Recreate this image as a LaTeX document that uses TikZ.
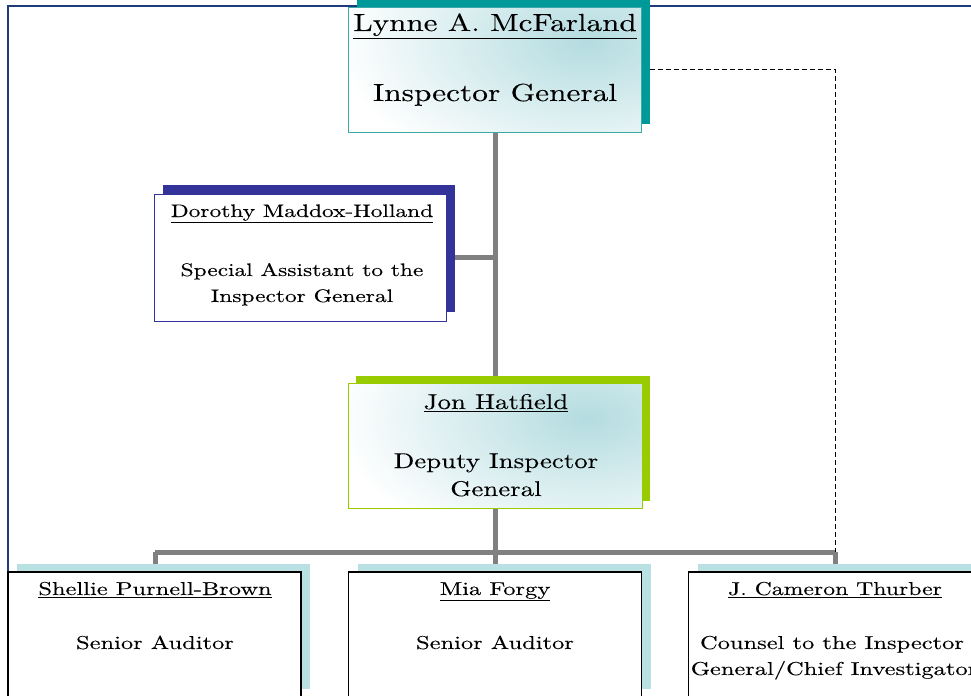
\documentclass[tikz,border=0pt]{standalone}
\usepackage{fontspec}
\setmainfont{lmroman10-regular.otf}[BoldFont=lmroman10-regular.otf, BoldFeatures={FakeBold=0.15}]
\usepackage{graphicx}
\usetikzlibrary{backgrounds}
\definecolor{framecol}{HTML}{1F3B7A}
\definecolor{tealS}{HTML}{009999}
\definecolor{tealB}{HTML}{3CA9A9}
\definecolor{gradC}{HTML}{B4DCE0}
\definecolor{navyS}{HTML}{333399}
\definecolor{limeS}{HTML}{99CC00}
\definecolor{lightS}{HTML}{B9E0E3}
\definecolor{connG}{HTML}{808080}
\newcommand{\stx}[2][1.31]{\scalebox{#1}[1]{#2}}
\newcommand{\ul}[1]{\leavevmode\vtop{\hbox{#1}\kern0.07em\hrule height 0.065em}}
\begin{document}
\begin{tikzpicture}[x=0.75pt,y=-0.75pt,
  mainbox/.style={rectangle, inner sep=0pt, outer sep=0pt, line width=0.75pt, fill=white},
  gradbox/.style={mainbox, path picture={
      \shade[inner color=gradC, outer color=white]
        ([shift={(-55,35)}]path picture bounding box.north east) ellipse (250 and 140);}},
  plainbox/.style={mainbox},
  lowbox/.style={mainbox, draw=black, line width=1.2pt,
    minimum width=219.75pt, minimum height=93.75pt},
  txt/.style={inner sep=0pt, anchor=base, text=black},
  bigtxt/.style={txt, font=\fontsize{18.5}{22}\selectfont\bfseries},
  midtxt/.style={txt, font=\fontsize{16}{19}\selectfont\bfseries},
  dortxt/.style={txt, font=\fontsize{13.6}{16}\selectfont\bfseries},
  lowtxt/.style={txt, font=\fontsize{14}{16}\selectfont\bfseries},
  conn/.style={draw=connG, line width=3.75pt},
  dashconn/.style={draw=black, line width=0.75pt, dash pattern=on 3.75pt off 2.25pt}]
\path[use as bounding box, clip] (0,0) rectangle (971,696);

% boxes
\node[gradbox, draw=tealB, minimum width=219.75pt, minimum height=93.75pt] (lynne) at (495,69.5) {};
\node[plainbox, draw=navyS, minimum width=219pt, minimum height=95.25pt] (dorothy) at (300,257.5) {};
\node[gradbox, draw=limeS, minimum width=220.5pt, minimum height=93.75pt] (jon) at (495,445.5) {};
\node[lowbox] (shellie) at (154.5,634.5) {};
\node[lowbox] (mia) at (495,634.5) {};
\node[lowbox] (thurber) at (835,634.5) {};

\coordinate (busL) at (155,552);
\coordinate (busR) at (835,552);

\begin{pgfonlayer}{background}
  \draw[framecol, line width=1.5pt] (8,572) -- (8,6) -- (990,6);
  \draw[conn] (lynne.south) -- (jon.north);
  \draw[conn] (dorothy.east) -- (dorothy.east -| lynne.south);
  \draw[conn] (jon.south) -- (jon.south |- busL);
  \draw[conn] (busL) -- (busR);
  \draw[conn] (busL) -- (shellie.north -| busL);
  \draw[conn] (jon.south |- busL) -- (mia.north);
  \draw[conn] (busR) -- (thurber.north);
  \draw[dashconn] (lynne.east) -- (lynne.east -| thurber.north) -- (thurber.north |- busL);
  \fill[tealS] ([shift={(8,-8)}]lynne.south west) rectangle ([shift={(8,-8)}]lynne.north east);
  \fill[navyS] ([shift={(9,-9)}]dorothy.south west) rectangle ([shift={(9,-9)}]dorothy.north east);
  \fill[limeS] ([shift={(8,-7)}]jon.south west) rectangle ([shift={(8,-7)}]jon.north east);
  \fill[lightS] ([shift={(9,-8)}]shellie.south west) rectangle ([shift={(9,-8)}]shellie.north east);
  \fill[lightS] ([shift={(9,-8)}]mia.south west) rectangle ([shift={(9,-8)}]mia.north east);
  \fill[lightS] ([shift={(9,-8)}]thurber.south west) rectangle ([shift={(9,-8)}]thurber.north east);
\end{pgfonlayer}

% texts
\node[bigtxt] (lynneName) at (495,31) {\stx[1.26]{\ul{Lynne A. McFarland}}};
\node[bigtxt] (lynneTitle) at (495,101) {\stx[1.27]{Inspector General}};

\node[dortxt] (dorName) at (302,217) {\stx[1.29]{\ul{Dorothy Maddox-Holland}}};
\node[dortxt] (dorTitleA) at (302,276) {\stx[1.29]{Special Assistant to the}};
\node[dortxt] (dorTitleB) at (302,302) {\stx[1.29]{Inspector General}};

\node[midtxt] (jonName) at (496,409) {\stx[1.26]{\ul{Jon Hatfield}}};
\node[midtxt] (jonTitleA) at (496,468) {\stx[1.26]{Deputy Inspector}};
\node[midtxt] (jonTitleB) at (496,496) {\stx[1.26]{General}};

\node[lowtxt] (shName) at (155,595) {\stx{\ul{Shellie Purnell-Brown}}};
\node[lowtxt] (shTitle) at (155,649) {\stx{Senior Auditor}};

\node[lowtxt] (miaName) at (495,595) {\stx{\ul{Mia Forgy}}};
\node[lowtxt] (miaTitle) at (495,649) {\stx{Senior Auditor}};

\node[lowtxt] (thName) at (835,595) {\stx[1.27]{\ul{J. Cameron Thurber}}};
\node[lowtxt] (thTitleA) at (832,649) {\stx{Counsel to the Inspector}};
\node[lowtxt] (thTitleB) at (834,675) {\stx{General/Chief Investigator}};
\end{tikzpicture}
\end{document}
